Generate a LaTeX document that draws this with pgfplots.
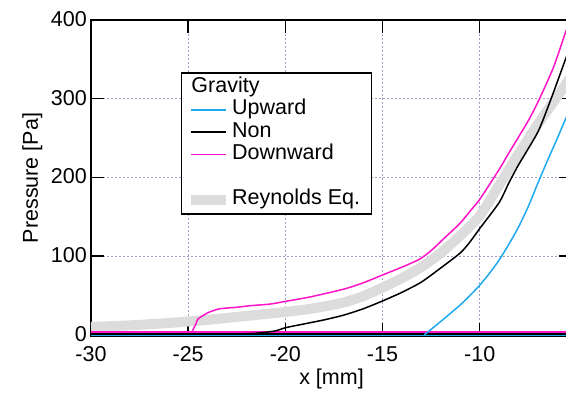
\documentclass[border=0pt]{standalone}
\usepackage{fontspec}
\setmainfont{Liberation Sans}
\usepackage{pgfplots}
\pgfplotsset{compat=1.18}
\definecolor{cUp}{RGB}{30,170,240}
\definecolor{cDown}{RGB}{255,20,200}
\definecolor{cRey}{RGB}{220,220,220}
\definecolor{cGrid}{RGB}{160,160,200}
\begin{document}
\begin{tikzpicture}
\begin{axis}[
  name=ax,
  scale only axis,
  width=481pt, height=316pt,
  xmin=-30, xmax=-5.25, ymin=-1.5, ymax=400,
  xtick={-30,-25,-20,-15,-10}, ytick={0,100,200,300,400},
  tick align=inside,
  major tick length=13pt,
  major tick style={line width=1.5pt, black},
  axis line style={line width=1.5pt},
  grid=major,
  grid style={cGrid, line width=0.6pt, dash pattern=on 2pt off 2pt},
  font=\fontsize{21.5}{25}\selectfont,
  tick label style={font=\fontsize{21.5}{25}\selectfont},
  xticklabel style={yshift=-9pt, inner sep=1pt, text height=15pt, text depth=0pt},
  yticklabel style={inner sep=1pt, text height=15pt, text depth=0pt, xshift=-3pt, yshift=1pt},
  /pgf/number format/assume math mode=true,
  xlabel={x [mm]}, ylabel={Pressure [Pa]},
  ylabel shift=4pt,
  xlabel style={yshift=-3pt},
  clip=true,
  legend cell align=left,
  legend style={at={(0.187,0.835)}, anchor=north west, draw=black, line width=1.5pt,
    font=\fontsize{21.5}{23}\selectfont,
    nodes={text height=15pt, text depth=4.5pt, inner sep=1.5pt},
    inner xsep=4pt, inner ysep=3pt},
  legend image code/.code={\draw[#1] (0pt,0pt) -- (35pt,0pt);},
]
% Reynolds band
\addplot[forget plot, cRey, line width=10pt, smooth, tension=0.4] coordinates {
(-30,10) (-28,12) (-26,15) (-25,17) (-24,19) (-22,24) (-20,29) (-19,32) (-18,36) (-17,41) (-16,49) (-15,60) (-14,72) (-13,86) (-12,104) (-11,126) (-10,151) (-9,190) (-8,230) (-7,268) (-6,303) (-5.25,330)
};
% baselines
\addplot[forget plot, cDown, line width=1.8pt] coordinates {(-30,4) (-5.25,4)};
\addplot[forget plot, black, line width=1.8pt] coordinates {(-30,1) (-5.25,1)};
\addplot[forget plot, cUp, line width=1.8pt] coordinates {(-30,-0.8) (-5.25,-0.8)};
% Upward
\addplot[forget plot, cUp, line width=1.5pt, smooth, tension=0.4] coordinates {
(-12.85,0) (-12,17) (-11,38) (-10.5,50) (-10,63) (-9.5,78) (-9,95) (-8.5,115) (-8,137) (-7.5,163) (-7,193) (-6.5,222) (-6,250) (-5.6,273) (-5.25,292)
};
% Non
\addplot[forget plot, black, line width=1.5pt, smooth, tension=0.4] coordinates {
(-22.5,1) (-21.5,2) (-20.5,5) (-20,9) (-19,14) (-18,19) (-17,25) (-16,33) (-15,43) (-14,54) (-13,67) (-12,85) (-11,104) (-10.5,118) (-10,135) (-9,168) (-8.5,193) (-8,216) (-7,258) (-6.34,299) (-5.6,349) (-5.25,372)
};
% Downward
\addplot[forget plot, cDown, line width=1.5pt, smooth, tension=0.4] coordinates {
(-24.8,4) (-24.6,14) (-24.5,20) (-24.2,25) (-24,28) (-23.4,33) (-22.5,35) (-21.8,37) (-20.8,39) (-20.1,42) (-18.75,48) (-17,58) (-16,66) (-15,76) (-14,86) (-13.1,96) (-12.5,107) (-11.9,121) (-11,142) (-10.5,157) (-10,172) (-9,210) (-8.5,231) (-7.5,272) (-6.94,299) (-6.2,340) (-5.6,383) (-5.25,405)
};
% legend
\addlegendimage{legend image code/.code={\node[overlay,anchor=west,inner sep=0pt] at (0pt,0pt) {Gravity};}}
\addlegendentry{}
\addlegendimage{cUp, line width=1.8pt}
\addlegendentry{Upward}
\addlegendimage{black, line width=1.5pt}
\addlegendentry{Non}
\addlegendimage{cDown, line width=1.5pt}
\addlegendentry{Downward}
\addlegendimage{legend image code/.code={}}
\addlegendentry{}
\addlegendimage{cRey, line width=10pt}
\addlegendentry{Reynolds Eq.\hspace*{6pt}}
\end{axis}
\pgfresetboundingbox
\path ([xshift=-91pt,yshift=-62pt]ax.south west) rectangle ([xshift=475pt,yshift=20pt]ax.north west);
\end{tikzpicture}
\end{document}
